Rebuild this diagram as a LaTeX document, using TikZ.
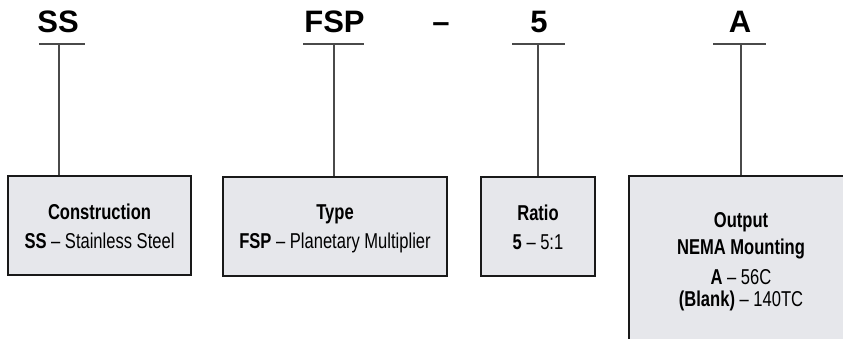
\documentclass[tikz,border=0pt]{standalone}
\usepackage{fontspec}
\setmainfont{Liberation Sans}
\newfontfamily\cond{Liberation Sans}[FakeStretch=0.77]
\definecolor{boxfill}{HTML}{E6E7EB}
\definecolor{linegray}{HTML}{4A4A4A}
\begin{document}
\begin{tikzpicture}[x=1pt,y=-1pt,
  code/.style={font=\fontsize{31}{31}\selectfont\bfseries, inner sep=0pt, anchor=base},
  uline/.style={draw=linegray, line width=1.4pt},
  vline/.style={draw=linegray, line width=1.1pt},
  infobox/.style={draw=black!90, line width=1.8pt, fill=boxfill, inner sep=0pt},
  head/.style={font=\cond\fontsize{21.5}{21.5}\selectfont\bfseries, inner sep=0pt, anchor=base},
  desc/.style={font=\cond\fontsize{21.5}{21.5}\selectfont, inner sep=0pt, anchor=base}]
\useasboundingbox (0,0) rectangle (843,338);
\begin{scope}
\clip (0,0) rectangle (843,338);
% code letters
\node[code] (c1) at (58,32) {SS};
\node[code] (c2) at (334.5,32) {FSP};
\node[code] (cd) at (441,32) {–};
\node[code] (c3) at (539,32) {5};
\node[code] (c4) at (740,32) {A};
% boxes
\node[infobox, minimum width=183pt, minimum height=99pt] (b1) at (99.5,225.5) {};
\node[infobox, minimum width=224pt, minimum height=99pt] (b2) at (335,226.5) {};
\node[infobox, minimum width=114pt, minimum height=99pt] (b3) at (538,226.5) {};
\node[infobox, minimum width=224pt, minimum height=166pt] (b4) at (741,259) {};
% underlines and connectors
\coordinate (t1) at (59,44);
\coordinate (t2) at (334,44);
\coordinate (t3) at (538,44);
\coordinate (t4) at (741,44);
\draw[uline] (39,44) -- (85,44);
\draw[uline] (303,44) -- (364,44);
\draw[uline] (512,44) -- (565,44);
\draw[uline] (713,44) -- (766,44);
\draw[vline] (t1) -- (t1 |- b1.north);
\draw[vline] (t2) -- (t2 |- b2.north);
\draw[vline] (t3) -- (t3 |- b3.north);
\draw[vline] (t4) -- (t4 |- b4.north);
% box texts
\node[head] (h1) at (99.5,219) {Construction};
\node[desc] (d1) at (99.5,248) {\textbf{SS} – Stainless Steel};
\node[head] (h2) at (335,219) {Type};
\node[desc] (d2) at (335,248) {\textbf{FSP} – Planetary Multiplier};
\node[head] (h3) at (538,220) {Ratio};
\node[desc] (d3) at (538,249) {\textbf{5} – 5:1};
\node[head] (h4) at (741,227) {Output};
\node[head] (h5) at (741,254) {NEMA Mounting};
\node[desc] (d4) at (741,284) {\textbf{A} – 56C};
\node[desc] (d5) at (741,306) {\textbf{(Blank)} – 140TC};
\end{scope}
\end{tikzpicture}
\end{document}
